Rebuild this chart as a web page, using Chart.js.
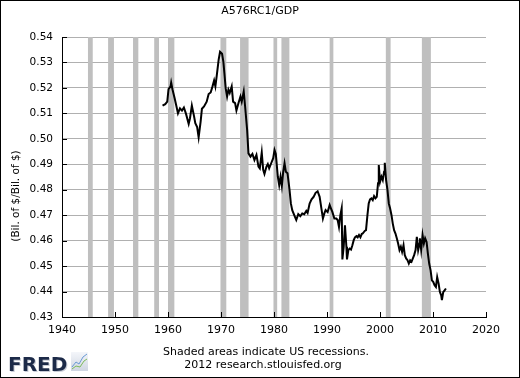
<!DOCTYPE html>
<html>
<head>
<meta charset="utf-8">
<script src="https://cdn.jsdelivr.net/npm/chart.js@4"></script>
<style>
  html, body { margin: 0; padding: 0; background: #fff; }
  canvas { display: block; }
</style>
</head>
<body>
<canvas id="fredChart" width="520" height="378"></canvas>
<script>
// A576RC1/GDP, quarterly
const years = [
  1958.97, 1959.48, 1959.86, 1960.10, 1960.48, 1960.60, 1960.86, 1961.24, 1961.60, 1961.88,
  1962.26, 1962.64, 1963.00, 1963.40, 1963.90, 1964.15, 1964.50, 1964.90, 1965.15, 1965.50,
  1965.78, 1966.15, 1966.40, 1966.80, 1967.30, 1967.67, 1968.05, 1968.40, 1968.70, 1968.94,
  1969.18, 1969.56, 1969.82, 1970.20, 1970.45, 1970.64, 1970.88, 1971.15, 1971.40, 1971.64,
  1972.02, 1972.28, 1972.66, 1972.91, 1973.29, 1973.67, 1973.91, 1974.29, 1974.55, 1974.93,
  1975.18, 1975.56, 1975.93, 1976.31, 1976.69, 1977.07, 1977.32, 1977.69, 1977.96, 1978.20,
  1978.58, 1978.83, 1979.09, 1979.47, 1979.85, 1980.10, 1980.34, 1980.72, 1980.98, 1981.23,
  1981.48, 1981.74, 1981.99, 1982.23, 1982.55, 1982.93, 1983.18, 1983.44, 1983.82, 1984.20,
  1984.58, 1984.96, 1985.33, 1985.71, 1986.09, 1986.34, 1986.72, 1987.09, 1987.47, 1987.85,
  1988.23, 1988.61, 1988.99, 1989.23, 1989.50, 1989.74, 1990.12, 1990.50, 1990.74, 1991.01,
  1991.39, 1991.76, 1992.01, 1992.26, 1992.52, 1992.77, 1992.90, 1993.15, 1993.39, 1993.66,
  1993.77, 1994.03, 1994.28, 1994.53, 1994.79, 1995.04, 1995.28, 1995.55, 1995.79, 1996.04,
  1996.30, 1996.55, 1996.74, 1997.12, 1997.36, 1997.63, 1997.87, 1998.12, 1998.38, 1998.63,
  1998.88, 1999.14, 1999.39, 1999.63, 1999.77, 2000.01, 2000.28, 2000.52, 2000.77, 2000.90,
  2001.15, 2001.41, 2001.66, 2001.90, 2002.17, 2002.41, 2002.66, 2002.92, 2003.17, 2003.42,
  2003.68, 2003.93, 2004.17, 2004.44, 2004.68, 2004.93, 2005.19, 2005.44, 2005.69, 2005.95,
  2006.20, 2006.44, 2006.71, 2006.95, 2007.20, 2007.46, 2007.52, 2007.77, 2008.03, 2008.28,
  2008.52, 2008.79, 2009.03, 2009.28, 2009.54, 2009.79, 2010.04, 2010.30, 2010.55, 2010.79,
  2011.06, 2011.30, 2011.55, 2011.68, 2011.93, 2012.19, 2012.44
];
const ratio = [
  0.5130, 0.5136, 0.5146, 0.5195, 0.5206, 0.5221, 0.5193, 0.5160, 0.5127, 0.5100,
  0.5120, 0.5111, 0.5123, 0.5098, 0.5059, 0.5081, 0.5131, 0.5090, 0.5061, 0.5046,
  0.5006, 0.5067, 0.5118, 0.5127, 0.5146, 0.5176, 0.5182, 0.5206, 0.5229, 0.5206,
  0.5245, 0.5311, 0.5342, 0.5334, 0.5302, 0.5258, 0.5199, 0.5166, 0.5193, 0.5180,
  0.5206, 0.5146, 0.5140, 0.5111, 0.5140, 0.5166, 0.5146, 0.5186, 0.5127, 0.5035,
  0.4943, 0.4930, 0.4941, 0.4917, 0.4937, 0.4891, 0.4884, 0.4946, 0.4878, 0.4862,
  0.4891, 0.4901, 0.4884, 0.4904, 0.4924, 0.4956, 0.4941, 0.4851, 0.4818, 0.4851,
  0.4815, 0.4871, 0.4904, 0.4871, 0.4865, 0.4799, 0.4746, 0.4720, 0.4700, 0.4681,
  0.4704, 0.4696, 0.4707, 0.4704, 0.4717, 0.4709, 0.4746, 0.4762, 0.4772, 0.4788,
  0.4794, 0.4772, 0.4720, 0.4687, 0.4707, 0.4720, 0.4712, 0.4740, 0.4727, 0.4713,
  0.4687, 0.4687, 0.4681, 0.4654, 0.4700, 0.4727, 0.4526, 0.4576, 0.4660, 0.4576,
  0.4526, 0.4563, 0.4569, 0.4565, 0.4582, 0.4602, 0.4613, 0.4618, 0.4613, 0.4622,
  0.4613, 0.4626, 0.4628, 0.4638, 0.4641, 0.4700, 0.4746, 0.4762, 0.4766, 0.4759,
  0.4775, 0.4766, 0.4772, 0.4825, 0.4897, 0.4831, 0.4851, 0.4838, 0.4871, 0.4906,
  0.4838, 0.4799, 0.4746, 0.4727, 0.4700, 0.4667, 0.4641, 0.4628, 0.4609, 0.4589,
  0.4563, 0.4576, 0.4556, 0.4582, 0.4543, 0.4530, 0.4523, 0.4510, 0.4523, 0.4517,
  0.4530, 0.4543, 0.4563, 0.4615, 0.4563, 0.4589, 0.4609, 0.4563, 0.4622, 0.4589,
  0.4609, 0.4595, 0.4550, 0.4510, 0.4484, 0.4444, 0.4438, 0.4425, 0.4418, 0.4457,
  0.4431, 0.4398, 0.4385, 0.4366, 0.4398, 0.4405, 0.4412
];

const recessionStart = [1944.9, 1948.7, 1953.4, 1957.4, 1960.0, 1969.9, 1973.6, 1979.9, 1981.4, 1990.5, 2001.1, 2007.9];
const recessionEnd   = [1945.8, 1949.8, 1954.4, 1958.3, 1961.2, 1971.0, 1975.2, 1980.6, 1982.9, 1991.2, 2002.0, 2009.6];

const xTicks = [1940, 1950, 1960, 1970, 1980, 1990, 2000, 2010, 2020];
const yTicks = [0.43, 0.44, 0.45, 0.46, 0.47, 0.48, 0.49, 0.50, 0.51, 0.52, 0.53, 0.54];

const FONT = "'DejaVu Sans', Verdana, sans-serif";

const fredDecor = {
  id: "fredDecor",
  beforeDraw(chart) {
    const { ctx } = chart;
    ctx.save();
    ctx.fillStyle = "#fff";
    ctx.fillRect(0, 0, chart.width, chart.height);
    ctx.restore();
  },
  beforeDatasetsDraw(chart) {
    const { ctx, chartArea: a, scales: { x } } = chart;
    ctx.save();
    ctx.fillStyle = "#bfbfbf";
    recessionStart.forEach((s, i) => {
      const x0 = x.getPixelForValue(s);
      const x1 = x.getPixelForValue(recessionEnd[i]);
      ctx.fillRect(x0, a.top, x1 - x0, a.bottom - a.top);
    });
    ctx.restore();
  },
  afterDraw(chart) {
    const { ctx, chartArea: a, scales: { x, y } } = chart;
    ctx.save();
    // inner tick marks
    ctx.strokeStyle = "#000";
    ctx.lineWidth = 1;
    ctx.beginPath();
    yTicks.forEach((v) => {
      const py = Math.round(y.getPixelForValue(v)) + 0.5;
      ctx.moveTo(a.left, py);
      ctx.lineTo(a.left + 5, py);
    });
    xTicks.forEach((v) => {
      const px = Math.round(x.getPixelForValue(v)) + 0.5;
      ctx.moveTo(px, a.bottom);
      ctx.lineTo(px, a.bottom - 5);
    });
    ctx.stroke();

    ctx.fillStyle = "#000";
    ctx.textAlign = "center";
    ctx.textBaseline = "middle";
    ctx.font = "11px " + FONT;
    ctx.fillText("A576RC1/GDP", 260, 11);

    ctx.font = "11px " + FONT;
    ctx.fillText("Shaded areas indicate US recessions.", 266, 352);
    ctx.fillText("2012 research.stlouisfed.org", 263, 365);

    ctx.font = "10.5px " + FONT;
    ctx.save();
    ctx.translate(16, 196);
    ctx.rotate(-Math.PI / 2);
    ctx.fillText("(Bil. of $/Bil. of $)", 0, 0);
    ctx.restore();

    // FRED logo
    ctx.textAlign = "left";
    ctx.textBaseline = "alphabetic";
    ctx.font = "bold 20px " + FONT;
    ctx.fillStyle = "#c8ccd6";
    ctx.fillText("FRED", 9, 372);
    ctx.fillStyle = "#1c2a48";
    ctx.fillText("FRED", 8, 371);

    const g = ctx.createLinearGradient(0, 352, 0, 371);
    g.addColorStop(0, "#f4f6fa");
    g.addColorStop(1, "#cfd6e2");
    ctx.fillStyle = g;
    ctx.fillRect(71, 352, 17, 19);
    ctx.lineWidth = 1;
    ctx.strokeStyle = "#6a9ad4";
    ctx.beginPath();
    ctx.moveTo(72, 367); ctx.lineTo(76, 362); ctx.lineTo(79, 364); ctx.lineTo(83, 357); ctx.lineTo(87, 354);
    ctx.stroke();
    ctx.strokeStyle = "#7dbb5a";
    ctx.beginPath();
    ctx.moveTo(72, 369); ctx.lineTo(76, 366); ctx.lineTo(80, 367); ctx.lineTo(84, 361); ctx.lineTo(87, 359);
    ctx.stroke();

    // outer frame
    ctx.strokeStyle = "#000";
    ctx.lineWidth = 1;
    ctx.strokeRect(0.5, 0.5, chart.width - 1, chart.height - 1);
    ctx.restore();
  },
};

new Chart(document.getElementById("fredChart"), {
  type: "line",
  data: {
    datasets: [
      {
        label: "A576RC1/GDP",
        data: years.map((yr, i) => ({ x: yr, y: ratio[i] })),
        borderColor: "#000",
        borderWidth: 2,
        pointRadius: 0,
        tension: 0,
        fill: false,
      },
    ],
  },
  options: {
    responsive: false,
    animation: false,
    devicePixelRatio: 1,
    layout: { padding: { left: 0, right: 34, top: 37, bottom: 0 } },
    scales: {
      x: {
        type: "linear",
        min: 1940,
        max: 2020,
        afterFit: (s) => { s.height = 61; },
        afterBuildTicks: (s) => { s.ticks = xTicks.map((v) => ({ value: v })); },
        ticks: {
          color: "#000",
          font: { family: FONT, size: 11 },
          padding: 7,
          maxRotation: 0,
          autoSkip: false,
          callback: (v) => String(v),
        },
        grid: { display: false, drawTicks: false },
        border: { display: true, color: "#000", width: 1 },
      },
      y: {
        type: "linear",
        min: 0.43,
        max: 0.54,
        afterFit: (s) => { s.width = 62; },
        afterBuildTicks: (s) => { s.ticks = yTicks.map((v) => ({ value: v })); },
        ticks: {
          color: "#000",
          font: { family: FONT, size: 10.5 },
          padding: 9,
          callback: (v) => Number(v).toFixed(2),
        },
        grid: { color: "#b0b0b0", lineWidth: 1, drawTicks: false },
        border: { display: true, color: "#000", width: 1 },
      },
    },
    plugins: {
      legend: { display: false },
      tooltip: { enabled: false },
    },
  },
  plugins: [fredDecor],
});
</script>
</body>
</html>
